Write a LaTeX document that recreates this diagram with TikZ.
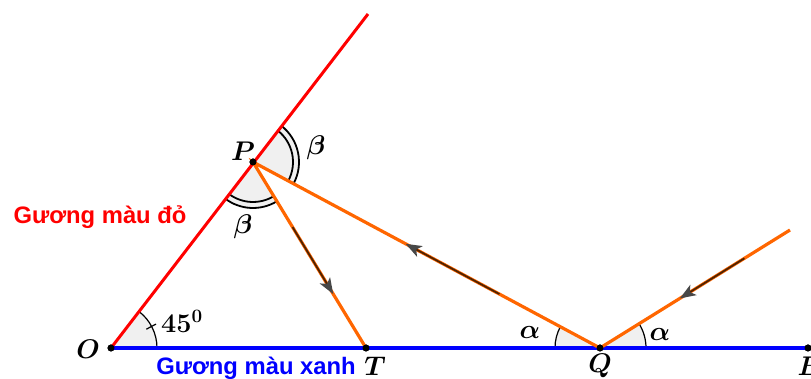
\RequirePackage{fix-cm}
\documentclass[tikz,border=0pt]{standalone}
\usepackage{fontspec}
\usepackage{bm}
\newfontfamily\vnfont{Liberation Sans}
\usetikzlibrary{arrows.meta,calc}
\definecolor{rayorange}{RGB}{255,102,0}
\definecolor{vecdark}{RGB}{80,35,0}
\definecolor{arcfill}{RGB}{240,240,240}
\begin{document}
\begin{tikzpicture}[x=1pt,y=1pt,
  dot/.style={circle,fill=black,inner sep=0pt,minimum size=7pt},
  ray/.style={draw=rayorange,line width=3.2pt},
  vec/.style={draw=vecdark,line width=1.8pt,-{Stealth[length=16pt,width=12pt,inset=4pt,color=black!72]}},
  lbl/.style={font=\fontsize{27}{30}\selectfont,inner sep=0pt},
  arcline/.style={draw=black,line width=1.2pt},
  mirror/.style={font=\vnfont\bfseries\fontsize{23.8}{27}\selectfont,inner sep=0pt}]
\useasboundingbox (0,0) rectangle (811,379);
\clip (0,0) rectangle (811,379);
% points
\coordinate (Top) at (368,365);
\coordinate (S) at (790,149);
\coordinate (Bend) at (811,31);
\node[dot] (O) at (111,31) {};
\node[dot] (P) at (253,217) {};
\node[dot] (T) at (366,31) {};
\node[dot] (Q) at (600,31) {};
\node[dot] (B) at (808,31) {};
% angle fills
\fill[arcfill] (O.center) -- ++(0:46pt) arc[start angle=0,end angle=52.6,radius=46pt] -- cycle;
\fill[arcfill] (P.center) -- ++(-28.2:46pt) arc[start angle=-28.2,end angle=52.15,radius=46pt] -- cycle;
\fill[arcfill] (P.center) -- ++(-127.4:46pt) arc[start angle=-127.4,end angle=-58.7,radius=46pt] -- cycle;
\fill[arcfill] (Q.center) -- ++(151.8:45pt) arc[start angle=151.8,end angle=180,radius=45pt] -- cycle;
\fill[arcfill] (Q.center) -- ++(0:46pt) arc[start angle=0,end angle=31.8,radius=46pt] -- cycle;
% arc outlines
\draw[arcline] ($(O.center)+(0:46pt)$) arc[start angle=0,end angle=52.6,radius=46pt];
\draw[arcline] ($(O.center)+(28:40pt)$) -- ($(O.center)+(28:51pt)$);
\draw[arcline,line width=1.8pt] ($(P.center)+(-28.2:46pt)$) arc[start angle=-28.2,end angle=52.15,radius=46pt];
\draw[arcline,line width=1.8pt] ($(P.center)+(-28.2:40pt)$) arc[start angle=-28.2,end angle=52.15,radius=40pt];
\draw[arcline,line width=1.8pt] ($(P.center)+(-127.4:46pt)$) arc[start angle=-127.4,end angle=-58.7,radius=46pt];
\draw[arcline,line width=1.8pt] ($(P.center)+(-127.4:40pt)$) arc[start angle=-127.4,end angle=-58.7,radius=40pt];
\draw[arcline] ($(Q.center)+(151.8:45pt)$) arc[start angle=151.8,end angle=180,radius=45pt];
\draw[arcline] ($(Q.center)+(0:46pt)$) arc[start angle=0,end angle=31.8,radius=46pt];
% mirrors
\draw[red,line width=3pt] (O.center) -- (Top);
\draw[blue,line width=3.6pt] (O.center) -- (Bend);
% rays
\draw[ray] (S) -- (Q.center) -- (P.center) -- (T.center);
\draw[vec] ($(Q.center)!0.76!(S)$) -- ($(Q.center)!0.42!(S)$);
\draw[vec] ($(Q.center)!0.29!(P.center)$) -- ($(Q.center)!0.56!(P.center)$);
\draw[vec] ($(P.center)!0.35!(T.center)$) -- ($(P.center)!0.71!(T.center)$);
% dots on top
\foreach \n in {O,P,T,Q,B} \fill (\n.center) circle[radius=3.5pt];
% labels
\node[lbl] (lP) at (243,228) {$\bm{P}$};
\node[lbl] (lb1) at (316,231) {$\bm{\beta}$};
\node[lbl] (lb2) at (243,152) {$\bm{\beta}$};
\node[lbl] (lO) at (88,30) {$\bm{O}$};
\node[lbl] (lT) at (375,13) {$\bm{T}$};
\node[lbl] (lQ) at (600,13) {$\bm{Q}$};
\node[lbl] (lB) at (810,13) {$\bm{B}$};
\node[lbl] (la1) at (530,46) {$\bm{\alpha}$};
\node[lbl] (la2) at (660,44) {$\bm{\alpha}$};
\node[lbl] (l45) at (182,58) {$\bm{45^0}$};
\node[mirror,text=red] (mr) at (100,162) {Gương màu đỏ};
\node[mirror,text=blue] (mb) at (256,11) {Gương màu xanh};
\end{tikzpicture}
\end{document}
